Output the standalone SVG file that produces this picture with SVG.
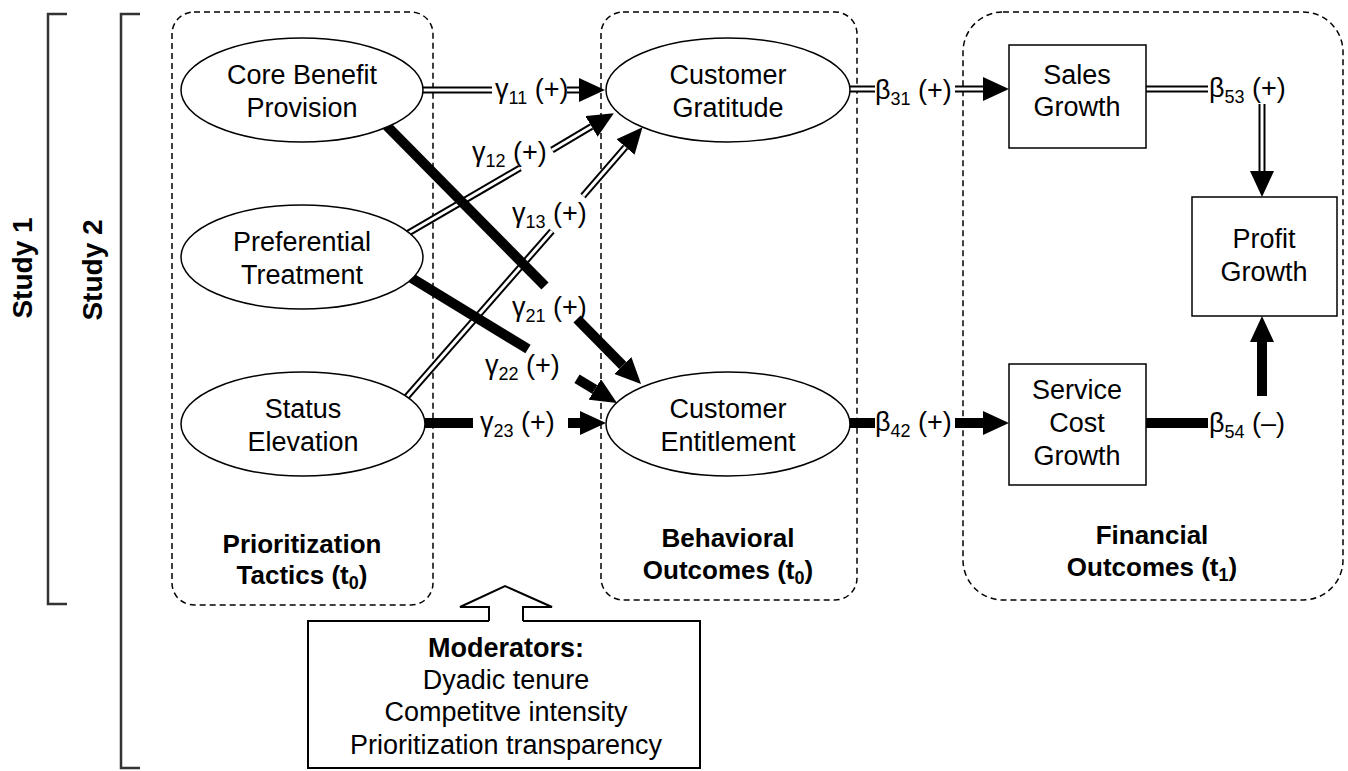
<svg xmlns="http://www.w3.org/2000/svg" width="1348" height="771" viewBox="0 0 1348 771">
<style>
text{font-family:"Liberation Sans",Arial,Helvetica,sans-serif;fill:#000}
.n{font-size:27px;text-anchor:middle}
.g{font-size:26px;font-weight:bold;text-anchor:middle}
.st{font-size:28px;font-weight:bold;text-anchor:middle}
.grp{fill:none;stroke:#000;stroke-width:1.5;stroke-dasharray:6 4}
.shape{fill:#fff;stroke:#000;stroke-width:1.5}
.dbl{fill:none;stroke:#000;stroke-width:7}
.dbli{fill:none;stroke:#fff;stroke-width:3}
.thk{fill:none;stroke:#000;stroke-width:10}
.lbl{font-size:27px}
.sub{font-size:18px}
.br{fill:none;stroke:#333;stroke-width:2.5}
.mod{fill:#fff;stroke:#000;stroke-width:2}
</style>
<defs>
<marker id="ah" markerUnits="userSpaceOnUse" markerWidth="26" markerHeight="24" viewBox="0 0 26 24" refX="0" refY="12" orient="auto"><path d="M0,0L26,12L0,24z" fill="#000"/></marker>
</defs>
<rect x="0" y="0" width="1348" height="771" fill="#fff"/>

<g id="study-brackets">
<path class="br" d="M67,14H48V604H67"/>
<path class="br" d="M140,14H121V768H140"/>
<text class="st" transform="translate(32,268) rotate(-90)">Study 1</text>
<text class="st" transform="translate(102,270) rotate(-90)">Study 2</text>
</g>

<g id="group-prioritization">
<rect class="grp" x="172" y="12" width="261" height="593" rx="22" ry="22"/>
<text class="g" x="302" y="553">Prioritization</text>
<text class="g" x="302" y="584">Tactics (t<tspan class="sub" dy="5">0</tspan><tspan dy="-5">)</tspan></text>
</g>
<g id="group-behavioral">
<rect class="grp" x="601" y="12" width="256" height="588" rx="22" ry="22"/>
<text class="g" x="728" y="547">Behavioral</text>
<text class="g" x="728" y="579">Outcomes (t<tspan class="sub" dy="5">0</tspan><tspan dy="-5">)</tspan></text>
</g>
<g id="group-financial">
<rect class="grp" x="963" y="12" width="380" height="588" rx="40" ry="40"/>
<text class="g" x="1152" y="544">Financial</text>
<text class="g" x="1152" y="576">Outcomes (t<tspan class="sub" dy="5">1</tspan><tspan dy="-5">)</tspan></text>
</g>

<g id="connectors">
<!-- double-line (positive, hollow) paths -->
<path class="dbl" d="M415,90H492"/><path class="dbli" d="M415,90H492"/>
<path class="dbl" d="M567,90H579" marker-end="url(#ah)"/><path class="dbli" d="M567,90H579"/>

<path class="dbl" d="M405,235L520,168"/><path class="dbli" d="M405,235L520,168"/>
<path class="dbl" d="M552,150L591.5,126.5" marker-end="url(#ah)"/><path class="dbli" d="M552,150L591.5,126.5"/>

<path class="dbl" d="M404,400L552,231"/><path class="dbli" d="M404,400L552,231"/>
<path class="dbl" d="M583,196L625.5,147" marker-end="url(#ah)"/><path class="dbli" d="M583,196L625.5,147"/>

<path class="dbl" d="M845,89H875"/><path class="dbli" d="M845,89H875"/>
<path class="dbl" d="M955,89H983" marker-end="url(#ah)"/><path class="dbli" d="M955,89H983"/>

<path class="dbl" d="M1140,89H1208"/><path class="dbli" d="M1140,89H1208"/>
<path class="dbl" d="M1262,104V171" marker-end="url(#ah)"/><path class="dbli" d="M1262,104V171"/>

<!-- thick (solid) paths -->
<path class="thk" d="M380,119L545,286"/>
<path class="thk" d="M577,319L622.8,365.5" marker-end="url(#ah)"/>

<path class="thk" d="M405,274L528,349"/>
<path class="thk" d="M577,378.7L594.8,389.5" marker-end="url(#ah)"/>

<path class="thk" d="M418,423H473"/>
<path class="thk" d="M568,423H580" marker-end="url(#ah)"/>

<path class="thk" d="M845,423H875"/>
<path class="thk" d="M955,423H983" marker-end="url(#ah)"/>

<path class="thk" d="M1140,423H1208"/>
<path class="thk" d="M1262,396V342" marker-end="url(#ah)"/>

<!-- labels -->
<text class="lbl" x="495" y="98">γ<tspan class="sub" dy="6">11</tspan><tspan dy="-6"> (+)</tspan></text>
<text class="lbl" x="472" y="161">γ<tspan class="sub" dy="6">12</tspan><tspan dy="-6"> (+)</tspan></text>
<text class="lbl" x="512" y="222">γ<tspan class="sub" dy="6">13</tspan><tspan dy="-6"> (+)</tspan></text>
<text class="lbl" x="512" y="316">γ<tspan class="sub" dy="6">21</tspan><tspan dy="-6"> (+)</tspan></text>
<text class="lbl" x="485" y="374">γ<tspan class="sub" dy="6">22</tspan><tspan dy="-6"> (+)</tspan></text>
<text class="lbl" x="480" y="431">γ<tspan class="sub" dy="6">23</tspan><tspan dy="-6"> (+)</tspan></text>
<text class="lbl" x="875" y="99">β<tspan class="sub" dy="6">31</tspan><tspan dy="-6"> (+)</tspan></text>
<text class="lbl" x="875" y="431">β<tspan class="sub" dy="6">42</tspan><tspan dy="-6"> (+)</tspan></text>
<text class="lbl" x="1209" y="97">β<tspan class="sub" dy="6">53</tspan><tspan dy="-6"> (+)</tspan></text>
<text class="lbl" x="1209" y="432">β<tspan class="sub" dy="6">54</tspan><tspan dy="-6"> (–)</tspan></text>
</g>

<g id="node-core-benefit">
<ellipse class="shape" cx="302" cy="90" rx="121" ry="52"/>
<text class="n" x="302" y="84">Core Benefit</text>
<text class="n" x="302" y="117">Provision</text>
</g>
<g id="node-preferential">
<ellipse class="shape" cx="302" cy="257" rx="121" ry="52"/>
<text class="n" x="302" y="251">Preferential</text>
<text class="n" x="302" y="284">Treatment</text>
</g>
<g id="node-status">
<ellipse class="shape" cx="303" cy="424" rx="122" ry="52"/>
<text class="n" x="303" y="418">Status</text>
<text class="n" x="303" y="451">Elevation</text>
</g>
<g id="node-gratitude">
<ellipse class="shape" cx="728" cy="90" rx="122" ry="52"/>
<text class="n" x="728" y="84">Customer</text>
<text class="n" x="728" y="117">Gratitude</text>
</g>
<g id="node-entitlement">
<ellipse class="shape" cx="728" cy="424" rx="122" ry="52"/>
<text class="n" x="728" y="418">Customer</text>
<text class="n" x="728" y="451">Entitlement</text>
</g>
<g id="node-sales">
<rect class="shape" x="1009" y="45" width="137" height="103"/>
<text class="n" x="1077" y="84">Sales</text>
<text class="n" x="1077" y="116">Growth</text>
</g>
<g id="node-profit">
<rect class="shape" x="1192" y="197" width="145" height="119"/>
<text class="n" x="1264" y="248">Profit</text>
<text class="n" x="1264" y="281">Growth</text>
</g>
<g id="node-service-cost">
<rect class="shape" x="1009" y="364" width="137" height="121"/>
<text class="n" x="1077" y="399">Service</text>
<text class="n" x="1077" y="432">Cost</text>
<text class="n" x="1077" y="465">Growth</text>
</g>

<g id="node-moderators">
<path class="mod" d="M489,621H308V768H700V621H523"/>
<path class="mod" d="M489,621V607H460L505,586L552,607H523V621"/>
<text class="n" x="506" y="657" font-weight="bold">Moderators:</text>
<text class="n" x="506" y="689">Dyadic tenure</text>
<text class="n" x="506" y="721">Competitve intensity</text>
<text class="n" x="506" y="754">Prioritization transparency</text>
</g>
</svg>
